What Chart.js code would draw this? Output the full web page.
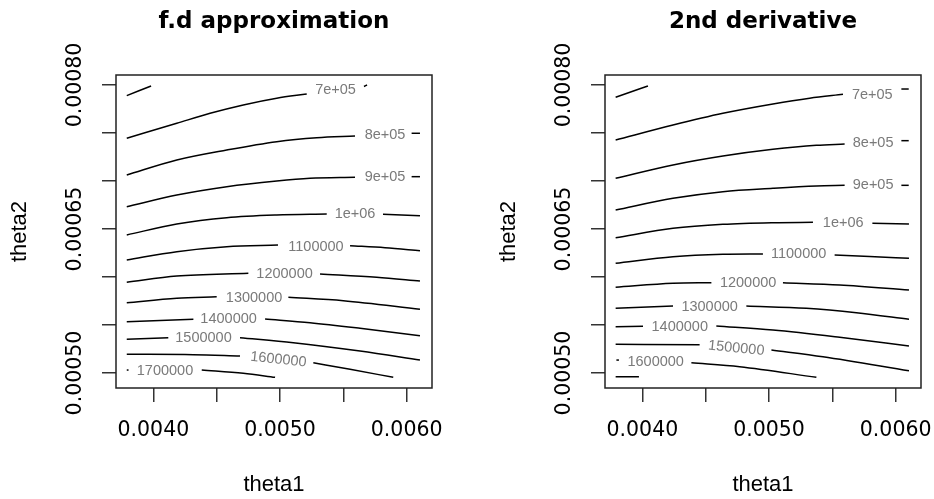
<!DOCTYPE html>
<html>
<head>
<meta charset="utf-8">
<script src="https://cdn.jsdelivr.net/npm/chart.js@4"></script>
<style>
  body { margin: 0; background: #fff; }
  #wrap { position: relative; width: 934px; height: 499px; }
  canvas { position: absolute; top: 0; }
</style>
</head>
<body>
<div id="wrap">
  <canvas id="fdChart" width="489" height="499" style="left:0"></canvas>
  <canvas id="sdChart" width="445" height="499" style="left:489px"></canvas>
</div>
<script>
// axis ticks (theta1 on x, theta2 on y)
const xTicks = [0.0040, 0.0045, 0.0050, 0.0055, 0.0060];
const xTickLabels = ['0.0040', '', '0.0050', '', '0.0060'];
const yTicks = [0.00050, 0.00055, 0.00060, 0.00065, 0.00070, 0.00075, 0.00080];
const yTickLabels = ['0.00050', '', '', '0.00065', '', '', '0.00080'];

const levels = ['6e+05', '7e+05', '8e+05', '9e+05', '1e+06', '1100000', '1200000',
  '1300000', '1400000', '1500000', '1600000', '1700000'];

// f.d approximation: contour pieces per level, [theta1, theta2]
const fdLines = [
  [[[0.003790, 0.0007889], [0.003982, 0.000799]]],
  [[[0.003790, 0.0007445], [0.004185, 0.0007601], [0.004448, 0.0007705], [0.004710, 0.0007792], [0.004974, 0.0007862], [0.005211, 0.0007906]],
   [[0.005663, 0.0007984], [0.005687, 0.0008]]],
  [[[0.003790, 0.0007063], [0.004185, 0.0007219], [0.004579, 0.0007323], [0.004974, 0.000741], [0.005290, 0.0007451], [0.005592, 0.0007469]],
   [[0.006039, 0.0007497], [0.006105, 0.0007497]]],
  [[[0.003790, 0.0006732], [0.004185, 0.0006854], [0.004579, 0.0006941], [0.004974, 0.0007], [0.005237, 0.0007028], [0.005592, 0.0007039]],
   [[0.006039, 0.0007045], [0.006105, 0.0007045]]],
  [[[0.003790, 0.0006438], [0.004185, 0.0006552], [0.004579, 0.0006618], [0.004974, 0.0006646], [0.005369, 0.0006656]],
   [[0.005813, 0.0006653], [0.006105, 0.0006639]]],
  [[[0.003790, 0.0006177], [0.004185, 0.0006264], [0.004579, 0.0006316], [0.004984, 0.0006333]],
   [[0.005553, 0.0006326], [0.005829, 0.0006305], [0.006105, 0.0006274]]],
  [[[0.003790, 0.0005945], [0.004185, 0.000601], [0.004750, 0.0006039]],
   [[0.005316, 0.0006031], [0.005763, 0.0005997], [0.006105, 0.0005958]]],
  [[[0.003790, 0.0005732], [0.004185, 0.0005778], [0.004500, 0.0005795]],
   [[0.005066, 0.0005789], [0.005500, 0.0005753], [0.006105, 0.0005664]]],
  [[[0.003790, 0.0005534], [0.004316, 0.0005559]],
   [[0.004882, 0.0005563], [0.005237, 0.0005524], [0.005632, 0.0005466], [0.006105, 0.0005389]]],
  [[[0.003790, 0.0005351], [0.004118, 0.0005368]],
   [[0.004684, 0.0005368], [0.005105, 0.0005316], [0.005632, 0.0005229], [0.006105, 0.0005135]]],
  [[[0.003790, 0.0005195], [0.004316, 0.0005191], [0.004684, 0.0005177]],
   [[0.005263, 0.0005107], [0.005553, 0.0005039], [0.005894, 0.0004955]]],
  [[[0.003790, 0.0005031], [0.003804, 0.0005031]],
   [[0.004382, 0.0005031], [0.004710, 0.0004997], [0.004961, 0.0004955]]]
];
const fdLabelAt = [null, [0.005438, 0.0007948], [0.005829, 0.0007474], [0.005829, 0.0007039],
  [0.005592, 0.0006656], [0.005284, 0.0006316], [0.005036, 0.0006028], [0.004795, 0.0005784],
  [0.004594, 0.0005559], [0.004396, 0.0005361], [0.004987, 0.0005139], [0.004092, 0.0005021]];
const fdLabelTilt = [0, 0, 0, 0, 0, 0, 0, 0, 0, 0, 6, 0];

// 2nd derivative
const sdLines = [
  [[[0.003789, 0.0007872], [0.004044, 0.000799]]],
  [[[0.003789, 0.0007427], [0.004242, 0.0007583], [0.004636, 0.0007705], [0.005031, 0.0007802], [0.005321, 0.0007862], [0.005584, 0.0007903]],
   [[0.006045, 0.0007958], [0.006103, 0.0007958]]],
  [[[0.003789, 0.0007028], [0.004242, 0.0007167], [0.004636, 0.000726], [0.005031, 0.000733], [0.005374, 0.0007372], [0.005597, 0.0007385]],
   [[0.006045, 0.000742], [0.006103, 0.000742]]],
  [[[0.003789, 0.0006698], [0.004242, 0.000682], [0.004636, 0.0006889], [0.005031, 0.0006924], [0.005374, 0.0006948], [0.005597, 0.0006955]],
   [[0.006045, 0.0006955], [0.006103, 0.0006955]]],
  [[[0.003789, 0.0006409], [0.004242, 0.0006507], [0.004636, 0.0006549], [0.005031, 0.0006566], [0.005347, 0.000657]],
   [[0.005816, 0.0006559], [0.006105, 0.0006552]]],
  [[[0.003789, 0.0006143], [0.004242, 0.0006211], [0.004636, 0.0006236], [0.004952, 0.000624]],
   [[0.005518, 0.0006229], [0.005795, 0.0006214], [0.006105, 0.0006195]]],
  [[[0.003789, 0.0005893], [0.004242, 0.0005934], [0.004545, 0.0005941]],
   [[0.005110, 0.0005941], [0.005558, 0.0005917], [0.006105, 0.0005865]]],
  [[[0.003789, 0.0005674], [0.004242, 0.0005698]],
   [[0.004821, 0.0005698], [0.005295, 0.0005674], [0.005690, 0.0005628], [0.006105, 0.0005559]]],
  [[[0.003789, 0.0005482], [0.004005, 0.0005486]],
   [[0.004584, 0.000549], [0.005031, 0.0005448], [0.005558, 0.0005372], [0.006105, 0.0005281]]],
  [[[0.003789, 0.0005299], [0.004452, 0.0005295]],
   [[0.005019, 0.000524], [0.005426, 0.000517], [0.006105, 0.0005024]]],
  [[[0.003795, 0.0005135], [0.003815, 0.0005135]],
   [[0.004387, 0.0005107], [0.004768, 0.0005066], [0.005374, 0.0004955]]],
  [[[0.003789, 0.0004961], [0.003973, 0.0004961]]]
];
const sdLabelAt = [null, [0.005815, 0.0007896], [0.005822, 0.0007399], [0.005822, 0.0006955],
  [0.005586, 0.0006566], [0.005234, 0.0006236], [0.004835, 0.0005934], [0.004531, 0.0005691],
  [0.004295, 0.0005482], [0.004741, 0.0005257], [0.004105, 0.0005118], null];
const sdLabelTilt = [0, 0, 0, 0, 0, 0, 0, 0, 0, 5.7, 0, 0];

// box round the plot region
const boxPlugin = {
  id: 'box',
  afterDraw(chart) {
    const a = chart.chartArea, ctx = chart.ctx;
    ctx.save();
    ctx.strokeStyle = '#222';
    ctx.lineWidth = 1.5;
    ctx.strokeRect(a.left, a.top, a.right - a.left, a.bottom - a.top);
    ctx.restore();
  }
};

// contour level labels placed through the scales
const contourLabels = {
  id: 'contourLabels',
  afterDatasetsDraw(chart, args, opts) {
    const ctx = chart.ctx, sx = chart.scales.x, sy = chart.scales.y;
    ctx.save();
    ctx.font = '14.5px "Liberation Sans", Arial, sans-serif';
    ctx.fillStyle = '#7a7a7a';
    ctx.textAlign = 'center';
    ctx.textBaseline = 'middle';
    opts.at.forEach((p, i) => {
      if (!p) return;
      ctx.save();
      ctx.translate(sx.getPixelForValue(p[0]), sy.getPixelForValue(p[1]));
      ctx.rotate(opts.tilt[i] * Math.PI / 180);
      ctx.fillText(levels[i], 0, 0);
      ctx.restore();
    });
    ctx.restore();
  }
};

function makePanel(id, title, lines, labelAt, labelTilt, padRight) {
  const datasets = [];
  lines.forEach(pieces => {
    pieces.forEach(seg => {
      datasets.push({
        data: seg.map(p => ({ x: p[0], y: p[1] })),
        borderColor: '#000',
        borderWidth: 1.5,
        pointRadius: 0,
        cubicInterpolationMode: 'monotone',
        fill: false
      });
    });
  });

  const tickFont = { family: '"DejaVu Sans", sans-serif', size: 20.5 };
  const titleFont = { family: '"Liberation Sans", Arial, sans-serif', size: 22 };
  const grid = { drawOnChartArea: false, drawTicks: true, tickLength: 14, color: '#333', lineWidth: 1.5 };

  return new Chart(document.getElementById(id), {
    type: 'line',
    data: { datasets: datasets },
    options: {
      responsive: false,
      animation: false,
      events: [],
      layout: { padding: { left: 0, right: padRight, top: 0, bottom: 0 } },
      plugins: {
        legend: { display: false },
        tooltip: { enabled: false },
        title: {
          display: true,
          text: title,
          fullSize: false,
          color: '#000',
          font: { family: '"DejaVu Sans", sans-serif', size: 23, weight: 'bold' },
          padding: { top: 8, bottom: 39.4 }
        },
        contourLabels: { at: labelAt, tilt: labelTilt }
      },
      scales: {
        x: {
          type: 'linear',
          position: 'bottom',
          min: 0.003705,
          max: 0.0062,
          afterBuildTicks: s => { s.ticks = xTicks.map(v => ({ value: v })); },
          afterFit: s => { s.height = 111; s.paddingLeft = 0; s.paddingRight = 0; },
          ticks: {
            autoSkip: false,
            maxRotation: 0,
            color: '#000',
            font: tickFont,
            padding: 16,
            callback: (v, i) => xTickLabels[i]
          },
          grid: grid,
          border: { display: false },
          title: { display: true, text: 'theta1', color: '#000', font: titleFont, padding: { top: 0, bottom: 1 } }
        },
        y: {
          type: 'linear',
          min: 0.0004844,
          max: 0.0008104,
          afterBuildTicks: s => { s.ticks = yTicks.map(v => ({ value: v })); },
          afterFit: s => { s.width = 116; s.paddingTop = 0; s.paddingBottom = 0; },
          ticks: {
            autoSkip: false,
            minRotation: 90,
            maxRotation: 90,
            crossAlign: 'center',
            color: '#000',
            font: tickFont,
            padding: -16,
            callback: (v, i) => yTickLabels[i]
          },
          grid: grid,
          border: { display: false },
          title: { display: true, text: 'theta2', color: '#000', font: titleFont, padding: { top: 7, bottom: 0 } }
        }
      }
    },
    plugins: [boxPlugin, contourLabels]
  });
}

makePanel('fdChart', 'f.d approximation', fdLines, fdLabelAt, fdLabelTilt, 57);
makePanel('sdChart', '2nd derivative', sdLines, sdLabelAt, sdLabelTilt, 13);
</script>
</body>
</html>
